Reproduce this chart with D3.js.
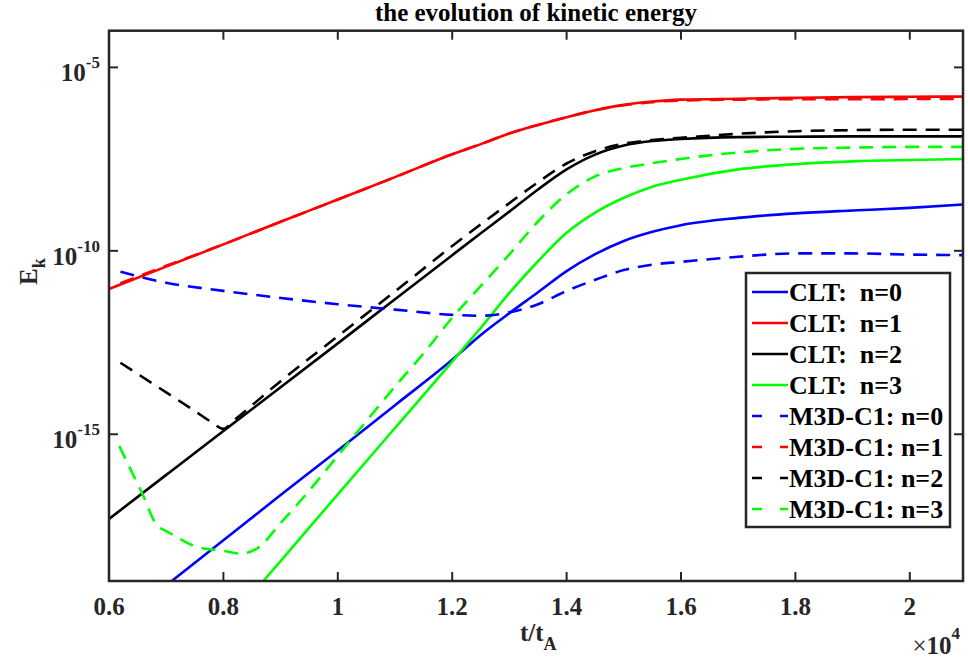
<!DOCTYPE html>
<html><head><meta charset="utf-8">
<script src="https://cdn.jsdelivr.net/npm/d3@7"></script>
<style>body{margin:0;background:#fff}</style>
</head><body><svg id="c" width="968" height="666" font-family="'Liberation Serif', 'Times New Roman', Tinos, 'DejaVu Serif', serif" font-weight="bold"></svg>
<script>
// ---------- data (time in units of 1e4 t_A, kinetic energy E_k) ----------
const tCLT = [0.6,0.7,0.8,0.9,1.0,1.1,1.2,1.25,1.3,1.35,1.4,1.45,1.5,1.55,1.6,1.7,1.8,1.9,2.0,2.1];
const cltN0 = [4.5e-21,7.6e-20,1.29e-18,2.2e-17,3.6e-16,6.2e-15,1.07e-13,5.1e-13,2.0e-12,7.4e-12,2.8e-11,8.1e-11,1.86e-10,3.3e-10,5.0e-10,7.9e-10,1.05e-9,1.26e-9,1.48e-9,1.86e-9];
const cltN1 = [9.1e-12,3.7e-11,1.5e-10,6.2e-10,2.5e-9,1.02e-8,4.3e-8,8.1e-8,1.58e-7,2.7e-7,4.4e-7,6.8e-7,9.5e-7,1.17e-6,1.32e-6,1.4e-6,1.48e-6,1.55e-6,1.58e-6,1.6e-6];
const cltN2 = [4.9e-18,7.8e-17,1.23e-15,1.9e-14,3.0e-13,4.8e-12,7.6e-11,3.0e-10,1.17e-9,4.7e-9,1.66e-8,4.2e-8,7.4e-8,9.8e-8,1.12e-7,1.26e-7,1.29e-7,1.32e-7,1.32e-7,1.32e-7];
const cltN3 = [1.3e-24,8.5e-23,5.5e-21,3.5e-19,2.3e-17,1.48e-15,9.5e-14,8.0e-13,7.1e-12,5.2e-11,3.1e-10,1.1e-9,2.8e-9,5.6e-9,8.7e-9,1.66e-8,2.3e-8,2.75e-8,3.0e-8,3.2e-8];

const tM3DN0 = [0.62,0.7,0.8,0.9,1.0,1.1,1.2,1.25,1.3,1.35,1.4,1.45,1.5,1.55,1.6,1.7,1.8,1.9,2.0,2.1];
const m3dN0 = [2.7e-11,1.35e-11,8.1e-12,5.2e-12,3.5e-12,2.5e-12,1.8e-12,1.7e-12,2.1e-12,3.5e-12,8.1e-12,1.62e-11,3.0e-11,4.2e-11,5.0e-11,6.9e-11,8.5e-11,8.5e-11,7.9e-11,7.6e-11];
const tM3DN1 = [0.62,0.7,0.8,0.9,1.0,1.1,1.2,1.25,1.3,1.35,1.4,1.45,1.5,1.55,1.6,1.7,1.8,1.9,2.0,2.1];
const m3dN1 = [1.3e-11,3.9e-11,1.5e-10,6.2e-10,2.5e-9,1.02e-8,4.3e-8,8.1e-8,1.58e-7,2.7e-7,4.4e-7,6.8e-7,9.3e-7,1.13e-6,1.25e-6,1.32e-6,1.36e-6,1.36e-6,1.37e-6,1.37e-6];
const tM3DN2 = [0.62,0.7,0.75,0.78,0.8,0.82,0.9,1.0,1.1,1.2,1.3,1.35,1.4,1.45,1.5,1.55,1.6,1.7,1.8,1.9,2.0,2.1];
const m3dN2 = [8.9e-14,1.38e-14,4.3e-15,2.1e-15,1.4e-15,2.5e-15,2.8e-14,4.7e-13,7.8e-12,1.35e-10,2.0e-9,7.4e-9,2.4e-8,5.2e-8,8.3e-8,1.05e-7,1.2e-7,1.55e-7,1.82e-7,1.95e-7,2.0e-7,2.0e-7];
const tM3DN3 = [0.618,0.64,0.66,0.68,0.69,0.7,0.75,0.8,0.83,0.86,0.9,0.95,1.0,1.05,1.1,1.15,1.2,1.25,1.3,1.35,1.4,1.45,1.5,1.55,1.6,1.7,1.8,1.9,2.0,2.1];
const m3dN3 = [4.8e-16,9.3e-17,2.1e-17,4.1e-18,2.8e-18,2.3e-18,8.9e-19,6.6e-19,5.6e-19,7.9e-19,3.8e-18,2.9e-17,2.6e-16,2.3e-15,2.0e-14,1.6e-13,1.5e-12,1.1e-11,8.0e-11,6.3e-10,3.5e-9,1.07e-8,1.8e-8,2.45e-8,3.2e-8,4.8e-8,6.0e-8,6.5e-8,6.8e-8,6.8e-8];

const seriesNames = ["CLT:  n=0","CLT:  n=1","CLT:  n=2","CLT:  n=3","M3D-C1: n=0","M3D-C1: n=1","M3D-C1: n=2","M3D-C1: n=3"];
const seriesColors = ["#0000ff","#ff0000","#000000","#00ff00","#0000ff","#ff0000","#000000","#00ff00"];
const xTicks = [0.6,0.8,1,1.2,1.4,1.6,1.8,2];
const xTickLabels = ["0.6","0.8","1","1.2","1.4","1.6","1.8","2"];
const yTicks = [1e-15,1e-10,1e-5];
const yTickExps = ["-15","-10","-5"];

const seriesT = [tCLT,tCLT,tCLT,tCLT,tM3DN0,tM3DN1,tM3DN2,tM3DN3];
const seriesV = [cltN0,cltN1,cltN2,cltN3,m3dN0,m3dN1,m3dN2,m3dN3];
const seriesDashed = [false,false,false,false,true,true,true,true];

// ---------- layout ----------
const L=109, R=963, T=30.7, B=581;
const svg = d3.select("#c");
const x = d3.scaleLinear().domain([0.6,2.093]).range([L,R]);
const y = d3.scaleLog().domain([1e-19,1e-4]).range([B,T]);
const axisCol = "#262626";

svg.append("defs").append("clipPath").attr("id","clip")
  .append("rect").attr("x",L).attr("y",T).attr("width",R-L).attr("height",B-T);

// curves
const line = d3.line().x(d=>x(d[0])).y(d=>y(d[1])).curve(d3.curveMonotoneX);
const g = svg.append("g").attr("clip-path","url(#clip)");
seriesV.forEach((vals,i)=>{
  const pts = vals.map((v,j)=>[seriesT[i][j], v]);
  g.append("path").datum(pts).attr("d",line)
    .attr("fill","none").attr("stroke",seriesColors[i]).attr("stroke-width",2.6)
    .attr("stroke-dasharray", seriesDashed[i] ? "14,9" : null);
});

// axes ticks (inward, mirrored)
const tickLen = 9;
const ax = svg.append("g").attr("stroke",axisCol).attr("stroke-width",2);
xTicks.forEach(v=>{
  ax.append("line").attr("x1",x(v)).attr("x2",x(v)).attr("y1",B).attr("y2",B-tickLen);
  ax.append("line").attr("x1",x(v)).attr("x2",x(v)).attr("y1",T).attr("y2",T+tickLen);
});
yTicks.forEach(v=>{
  ax.append("line").attr("x1",L).attr("x2",L+tickLen).attr("y1",y(v)).attr("y2",y(v));
  ax.append("line").attr("x1",R).attr("x2",R-tickLen).attr("y1",y(v)).attr("y2",y(v));
});
svg.append("rect").attr("x",L).attr("y",T).attr("width",R-L).attr("height",B-T)
  .attr("fill","none").attr("stroke",axisCol).attr("stroke-width",2.5);

// tick labels
xTicks.forEach((v,i)=>{
  svg.append("text").attr("x",x(v)).attr("y",615).attr("text-anchor","middle")
    .attr("font-size",25).attr("fill",axisCol).text(xTickLabels[i]);
});
yTicks.forEach((v,i)=>{
  const t = svg.append("text").attr("x",100).attr("y",y(v)+14).attr("text-anchor","end")
    .attr("font-size",25).attr("fill",axisCol);
  t.append("tspan").text("10");
  t.append("tspan").attr("dy",-13).attr("font-size",17).text(yTickExps[i]);
});

// x multiplier
const mx = svg.append("text").attr("x",960).attr("y",654).attr("text-anchor","end")
  .attr("font-size",25).attr("fill",axisCol);
mx.append("tspan").attr("font-weight","normal").text("\u00d7");
mx.append("tspan").text("10");
mx.append("tspan").attr("dy",-15).attr("font-size",17).text("4");

// axis labels
const xl = svg.append("text").attr("x",520).attr("y",641).attr("font-size",25).attr("fill",axisCol);
xl.append("tspan").text("t/t");
xl.append("tspan").attr("dy",9).attr("font-size",18).text("A");
const yl = svg.append("text").attr("transform","translate(37,285) rotate(-90)")
  .attr("font-size",25).attr("fill",axisCol);
yl.append("tspan").text("E");
yl.append("tspan").attr("dy",8).attr("font-size",18).text("k");

// title
svg.append("text").attr("x",(L+R)/2).attr("y",21).attr("text-anchor","middle").attr("font-size",25)
  .attr("fill","#000").text("the evolution of kinetic energy");

// legend
const lg = svg.append("g");
lg.append("rect").attr("x",746).attr("y",273).attr("width",204).attr("height",254)
  .attr("fill","#fff").attr("stroke",axisCol).attr("stroke-width",2.5);
seriesNames.forEach((name,i)=>{
  const cy = 292 + i*31;
  lg.append("line").attr("x1",752).attr("x2",788).attr("y1",cy).attr("y2",cy)
    .attr("stroke",seriesColors[i]).attr("stroke-width",2.6)
    .attr("stroke-dasharray", seriesDashed[i] ? "10,18,10,60" : null);
  lg.append("text").attr("x",789).attr("y",cy+9).attr("font-size",26)
    .attr("fill","#000").attr("xml:space","preserve").style("white-space","pre").text(name);
});
</script></body></html>
